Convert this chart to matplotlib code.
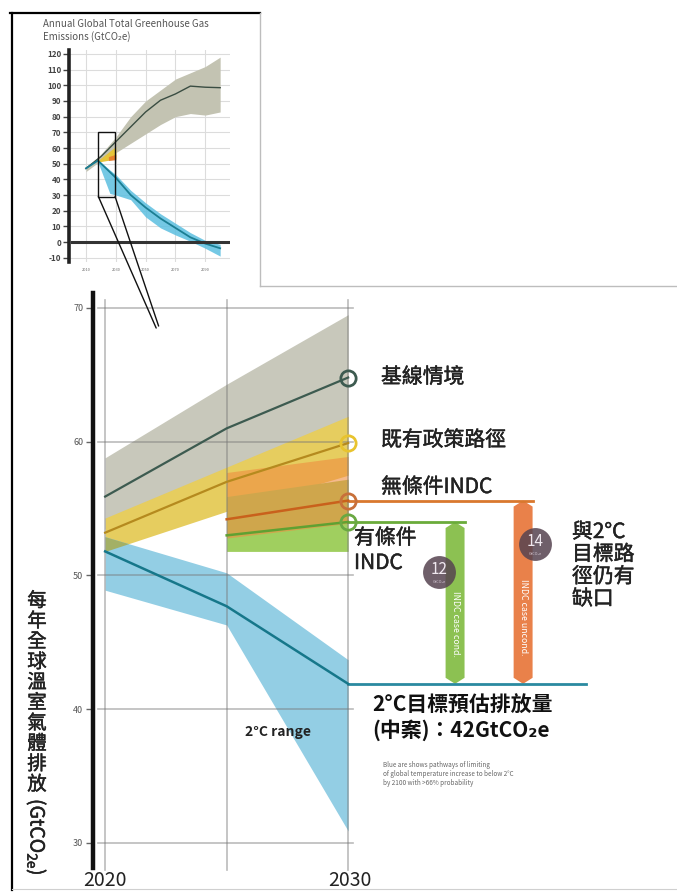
import matplotlib
matplotlib.use('Agg')
import matplotlib.pyplot as plt
import matplotlib.patheffects as pe
import numpy as np
from matplotlib.patches import Polygon, Rectangle, ConnectionPatch
from matplotlib.lines import Line2D

plt.rcParams['font.family'] = ['Noto Sans CJK TC', 'DejaVu Sans']

# ---------------- data: inset (long-term) ----------------
inset_title = ["Annual Global Total Greenhouse Gas", "Emissions (GtCO₂e)"]
inset_years = [2010, 2020, 2030, 2040, 2050, 2060, 2070, 2080, 2090, 2100]
inset_baseline = [47, 54.5, 64, 73.5, 83, 90.5, 94.5, 99.5, 98.8, 98.5]
inset_baseline_hi = [47.5, 56, 67, 80, 90, 97, 104, 108, 112, 118]
inset_baseline_lo = [45, 52, 57, 63, 69, 75, 80, 82, 81, 83]
inset_2c_years = [2010, 2018, 2030, 2040, 2050, 2060, 2070, 2080, 2090, 2100]
inset_2c = [47, 52, 41, 30, 22, 15, 9, 3, -1, -4]
inset_2c_band_years = [2018, 2026, 2030, 2040, 2050, 2060, 2070, 2080, 2090, 2100]
inset_2c_hi = [52.5, 46, 43, 33, 25, 18, 12, 6, 1, -1.5]
inset_2c_lo = [51, 31, 30, 27, 16, 9, 4.5, 0.5, -4, -9]
inset_policy_years = [2018, 2030]
inset_policy_hi = [52, 61]
inset_policy_lo = [51, 53]
inset_indc_years = [2025, 2030]
inset_indc_hi = [54.5, 56]
inset_indc_lo = [52, 52.5]
inset_yticks = list(range(-10, 121, 10))
inset_xticks = [2010, 2030, 2050, 2070, 2090]

# ---------------- data: main (2020-2030) ----------------
years = [2020, 2025, 2030]
baseline = [55.9, 61.0, 64.8]
baseline_hi = [58.8, 64.3, 69.5]
baseline_lo = [53.5, 57.5, 60.5]
policy = [53.2, 57.0, 59.9]
policy_hi = [54.3, 58.1, 61.9]
policy_lo = [51.8, 54.8, 57.5]
indc_years = [2025, 2030]
uncond = [54.2, 55.6]
uncond_hi = [57.7, 58.9]
uncond_lo = [52.8, 53.9]
cond = [53.0, 54.0]
cond_hi = [55.9, 57.2]
cond_lo = [51.8, 51.8]
two_c = [51.8, 47.7, 41.9]
two_c_hi = [52.9, 50.2, 43.7]
two_c_lo = [48.9, 46.3, 30.9]
main_yticks = [30, 40, 50, 60, 70]
main_xlabels = ["2020", "2030"]
series_labels = ["基線情境", "既有政策路徑", "無條件INDC", "有條件", "INDC"]
gap_label = ["與2°C", "目標路", "徑仍有", "缺口"]
ylabel_chars = "每年全球溫室氣體排放"

# ---------------- figure ----------------
W, H = 677, 894
fig = plt.figure(figsize=(W / 100, H / 100), dpi=100)


def fx(px):
    return px / W


def fy(py):
    return 1 - py / H


def ftext(x, y, s, heavy=False, **kw):
    kw.setdefault('ha', 'left')
    kw.setdefault('va', 'center')
    t = fig.text(fx(x), fy(y), s, **kw)
    if heavy:
        t.set_path_effects([pe.withStroke(linewidth=0.35, foreground=kw.get('color', '#222'))])
    return t


# frame lines
for (x0, y0, x1, y1, c, lw) in [(10, 13, 260, 13, 'black', 1.6),
                                (12, 13, 12, 890, 'black', 1.6),
                                (260, 13, 260, 286, '#bdbdbd', 1.0),
                                (260, 286, 677, 286, '#bdbdbd', 1.0),
                                (12, 889, 677, 889, '#d0d0d0', 0.8)]:
    fig.add_artist(Line2D([fx(x0), fx(x1)], [fy(y0), fy(y1)], color=c, lw=lw,
                          transform=fig.transFigure))

# ---------------- inset ----------------
axi = fig.add_axes([fx(69), fy(262), fx(230) - fx(69), (262 - 50) / H])
axi.set_xlim(1998.6, 2106.6)
axi.set_ylim(-12.76, 122.55)
for s in ['top', 'right', 'bottom']:
    axi.spines[s].set_visible(False)
axi.spines['left'].set_linewidth(2.6)
axi.spines['left'].set_color('#222')
axi.set_yticks(inset_yticks)
axi.set_yticklabels([str(v) for v in inset_yticks], fontsize=5.8, color='#444',
                    fontweight='bold')
axi.set_xticks(inset_xticks)
axi.set_xticklabels([str(v) for v in inset_xticks], fontsize=2.8, color='#666')
axi.tick_params(axis='y', length=4, width=1, color='#444', pad=1.5)
axi.tick_params(axis='x', length=0, pad=4)
axi.grid(True, color='#dcdcdc', lw=0.8)
axi.set_axisbelow(True)
axi.fill_between(inset_years, inset_baseline_lo, inset_baseline_hi, color='#c3c3b2', lw=0, zorder=2)
axi.fill_between(inset_2c_band_years, inset_2c_lo, inset_2c_hi, color='#5cbfe0', lw=0, alpha=0.85, zorder=2)
axi.fill_between(inset_policy_years, inset_policy_lo, inset_policy_hi, color='#e6c53a', lw=0, zorder=3)
axi.fill_between(inset_indc_years, inset_indc_lo, inset_indc_hi, color='#e8702a', lw=0, alpha=0.8, zorder=3)
axi.plot(inset_years, inset_baseline, color='#3a4d42', lw=1.0, zorder=4)
axi.plot(inset_2c_years, inset_2c, color='#1b7e93', lw=1.3, zorder=4)
axi.axhline(0, xmin=0.02, xmax=1.0, color='#333', lw=2.2, zorder=4)
box = (2018.3, 29, 11.2, 41)
axi.add_patch(Rectangle(box[:2], box[2], box[3], fill=False, ec='#111', lw=1.0, zorder=5))
ftext(43, 24, inset_title[0], fontsize=7, color='#555')
ftext(43, 37, inset_title[1], fontsize=7, color='#555')

# ---------------- main ----------------
ax = fig.add_axes([fx(93), fy(868), 1 - fx(93), (868 - 293) / H])
ax.set_xlim(2019.5, 2019.5 + (677 - 93) / 24.3)
ax.set_ylim(28.13, 71.12)
for s in ['top', 'right', 'bottom']:
    ax.spines[s].set_visible(False)
ax.spines['left'].set_linewidth(3.2)
ax.spines['left'].set_color('#111')
ax.set_xticks([])
ax.set_yticks(main_yticks)
ax.set_yticklabels([str(v) for v in main_yticks], fontsize=6.5, color='#555')
ax.tick_params(axis='y', length=5, width=1, color='#666', pad=2)

# grid (drawn above bands, semi-transparent)
for v in main_yticks:
    ax.plot([2019.7, 2030.2], [v, v], color='#777', alpha=0.5, lw=1.2, zorder=8)
for v in years:
    ax.plot([v, v], [28.0, 70.6], color='#777', alpha=0.5, lw=1.2, zorder=8, clip_on=False)

ax.fill_between(years, baseline_lo, baseline_hi, color='#c8c8bb', lw=0, zorder=2)
ax.fill_between(years, policy_lo, policy_hi, color='#e6cd5f', lw=0, zorder=3)
ax.fill_between(indc_years, cond_lo, cond_hi, color='#a0cf5f', lw=0, zorder=4)
ax.fill_between(indc_years, uncond_lo, uncond_hi, color='#ef8c40', alpha=0.6, lw=0, zorder=5)
ax.fill_between(years, two_c_lo, two_c_hi, color='#93cee4', lw=0, zorder=3)
# overlap of current-policy band and 2C band
xx = np.linspace(years[0], years[-1], 400)
ov_lo = np.maximum(np.interp(xx, years, policy_lo), np.interp(xx, years, two_c_lo))
ov_hi = np.minimum(np.interp(xx, years, policy_hi), np.interp(xx, years, two_c_hi))
ax.fill_between(xx, ov_lo, ov_hi, where=ov_hi > ov_lo, color='#a3b065', lw=0, zorder=4)

ax.plot(years, baseline, color='#3d5b50', lw=1.6, zorder=9)
ax.plot(years, policy, color='#b58a1e', lw=1.6, zorder=9)
ax.plot(indc_years, uncond, color='#c9611c', lw=1.8, zorder=9)
ax.plot(indc_years, cond, color='#5fa132', lw=1.8, zorder=9)
ax.plot(years, two_c, color='#16778a', lw=1.8, zorder=9)

# gap bars
bar_hw = 0.39
tip = 0.45
cond_bar_x = 2034.4
uncond_bar_x = 2037.2
blue_end_x = 2039.8


def gap_bar(xc, top, bot, color):
    pts = [(xc - bar_hw, top - tip), (xc, top), (xc + bar_hw, top - tip),
           (xc + bar_hw, bot + tip), (xc, bot), (xc - bar_hw, bot + tip)]
    ax.add_patch(Polygon(pts, closed=True, fc=color, ec='none', zorder=6))


# extension lines
ax.plot([years[-1], uncond_bar_x + bar_hw], [uncond[-1]] * 2, color='#d9782e', lw=2, zorder=7, clip_on=False)
ax.plot([years[-1], cond_bar_x + bar_hw], [cond[-1]] * 2, color='#6aab3a', lw=2, zorder=7, clip_on=False)
ax.plot([years[-1], blue_end_x], [two_c[-1]] * 2, color='#2a8aa0', lw=2, zorder=7, clip_on=False)

gap_bar(cond_bar_x, cond[-1], two_c[-1], '#8cc152')
gap_bar(uncond_bar_x, uncond[-1], two_c[-1], '#e9814a')
ax.text(cond_bar_x, 46.4, "INDC case cond.", rotation=-90, color='white', fontsize=6.3,
        ha='center', va='center', zorder=7)
ax.text(uncond_bar_x, 46.9, "INDC case uncond.", rotation=-90, color='white', fontsize=6.3,
        ha='center', va='center', zorder=7)

# end markers
for vals, c in [(baseline, '#3d5b50'), (policy, '#e8c32e'), (uncond, '#c8703a'), (cond, '#6aa842')]:
    ax.plot([years[-1]], [vals[-1]], marker='o', ms=11, mfc='none', mec=c, mew=2, zorder=10, clip_on=False)

# badges
gap_cond = round(cond[-1] - two_c[-1])
gap_uncond = round(uncond[-1] - two_c[-1])
for (bx, by, val) in [(2033.74, 50.26, gap_cond), (2037.69, 52.35, gap_uncond)]:
    ax.scatter([bx], [by], s=560, color='#564350', alpha=0.85, lw=0, zorder=11)
    ax.text(bx, by + 0.2, str(val), color='#efe8ef', fontsize=11, ha='center', va='center', zorder=12)
    ax.text(bx, by - 0.75, "GtCO₂e", color='#d8ccd8', fontsize=2.8, ha='center', va='center', zorder=12)

# connector lines from inset box
for (px0, py0, px1, py1) in [(box[0], box[1], 2022.1, 68.5), (box[0] + box[2], box[1], 2022.2, 68.65)]:
    cp = ConnectionPatch(xyA=(px0, py0), coordsA=axi.transData,
                         xyB=(px1, py1), coordsB=ax.transData, color='#111', lw=1.0)
    fig.add_artist(cp)

# ---------------- texts ----------------
ftext(381, 377, series_labels[0], heavy=True, fontsize=15, color='#222')
ftext(381, 440, series_labels[1], heavy=True, fontsize=15, color='#222')
ftext(381, 487, series_labels[2], heavy=True, fontsize=15, color='#222')
ftext(354, 538, series_labels[3], heavy=True, fontsize=15, color='#222')
ftext(354, 563, series_labels[4], heavy=True, fontsize=15, color='#222')
for i, s in enumerate(gap_label):
    ftext(572, 532 + i * 22.3, s, heavy=True, fontsize=15, color='#222')
ftext(372, 705, "2°C目標預估排放量", fontsize=15, color='#111', fontweight='bold')
ftext(372, 730, f"(中案)：{round(two_c[-1])}GtCO₂e", fontsize=15, color='#111', fontweight='bold')
note = ["Blue are shows pathways of limiting",
        "of global temperature increase to below 2°C",
        "by 2100 with >66% probability"]
for i, s in enumerate(note):
    ftext(383, 765 + i * 9, s, fontsize=4.6, color='#666')
ftext(245, 732, "2°C range", fontsize=10, color='#222', fontweight='bold')
ftext(105, 880, main_xlabels[0], fontsize=14, color='#222', ha='center')
ftext(350, 880, main_xlabels[1], fontsize=14, color='#222', ha='center')

for i, ch in enumerate(ylabel_chars):
    ftext(37, 601 + i * 20.4, ch, heavy=True, fontsize=14, color='#222', ha='center')
ftext(37, 799, r"(GtCO$_{\mathregular{2e}}$)", heavy=True, fontsize=14, color='#222',
      ha='center', va='top', rotation=-90)

fig.savefig('out.png', dpi=100)
